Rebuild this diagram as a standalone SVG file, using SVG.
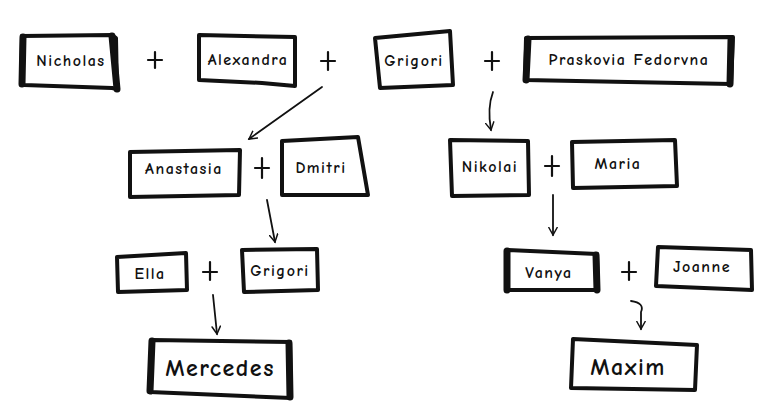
<svg xmlns="http://www.w3.org/2000/svg" width="773" height="419" viewBox="0 0 773 419">
<defs>
<style>
.box{fill:#fff;stroke:#111;stroke-width:4;stroke-linejoin:round;stroke-linecap:round}
.thick{fill:none;stroke:#111;stroke-width:7;stroke-linecap:round}
.t{font-family:"Comic Neue","Liberation Sans",sans-serif;font-size:16px;font-weight:700;fill:#111;text-anchor:middle;letter-spacing:1.5px}
.tb{font-family:"Comic Neue","Liberation Sans",sans-serif;font-size:24px;font-weight:700;fill:#111;text-anchor:middle;letter-spacing:1.5px}
.plus{fill:none;stroke:#111;stroke-width:2.2;stroke-linecap:round}
.con{fill:none;stroke:#111;stroke-width:1.8;stroke-linecap:round}
</style>
<marker id="ah" viewBox="0 0 12 12" refX="10" refY="6" markerWidth="10" markerHeight="10" markerUnits="userSpaceOnUse" orient="auto">
<path d="M1,1 L10,6 L1,11" fill="none" stroke="#111" stroke-width="1.8" stroke-linecap="round"/>
</marker>
</defs>

<g id="connectors">
<path class="con" d="M322,87 L249,139" marker-end="url(#ah)"/>
<path class="con" d="M493,92 Q487,108 491,130" marker-end="url(#ah)"/>
<path class="con" d="M267,200 L275,242" marker-end="url(#ah)"/>
<path class="con" d="M213,295 L217,334" marker-end="url(#ah)"/>
<path class="con" d="M553,195 L553,235" marker-end="url(#ah)"/>
<path class="con" d="M631,301 Q645,303 641,312 L641,329" marker-end="url(#ah)"/>
</g>

<g id="pluses">
<path class="plus" d="M148,60 H162 M155,52 V68"/>
<path class="plus" d="M321,61 H335 M328,52 V70"/>
<path class="plus" d="M485,61 H499 M492,52 V70"/>
<path class="plus" d="M255,168 H269 M262,158 V178"/>
<path class="plus" d="M545,166 H559 M552,156 V176"/>
<path class="plus" d="M203,272 H217 M210,262 V280"/>
<path class="plus" d="M622,272 H636 M629,262 V280"/>
</g>

<g id="n-nicholas">
<path class="box" d="M22,36 L112,35 L116,38 L117,89 L112,88 L24,85 L21,82 Z"/>
<path class="thick" d="M23,37 L22,84 M112,36 L117,89"/>
<text class="t" x="71" y="66">Nicholas</text>
</g>
<g id="n-alexandra">
<path class="box" d="M199,35 L295,37 L295,86 L262,83 L199,80 Z"/>
<text class="t" x="248" y="65">Alexandra</text>
</g>
<g id="n-grigori1">
<path class="box" d="M375,38 L450,31 L453,85 L380,88 Z"/>
<text class="t" x="414" y="66">Grigori</text>
</g>
<g id="n-praskovia">
<path class="box" d="M526,38 L733,37 L731,84 L525,80 Z"/>
<path class="thick" d="M528,39 L526,80 M731,40 L730,84"/>
<text class="t" x="629" y="65">Praskovia Fedorvna</text>
</g>

<g id="n-anastasia">
<path class="box" d="M130,152 L240,150 L239,195 L130,197 Z"/>
<text class="t" x="184" y="174">Anastasia</text>
</g>
<g id="n-dmitri">
<path class="box" d="M282,141 L358,137 L368,195 L282,195 Z"/>
<text class="t" x="321" y="173">Dmitri</text>
</g>
<g id="n-nikolai">
<path class="box" d="M450,140 L528,141 L529,195 L452,196 Z"/>
<text class="t" x="490" y="172">Nikolai</text>
</g>
<g id="n-maria">
<path class="box" d="M572,142 L675,140 L677,186 L573,188 Z"/>
<text class="t" x="618" y="169">Maria</text>
</g>

<g id="n-ella">
<path class="box" d="M117,257 L186,253 L187,290 L118,292 Z"/>
<text class="t" x="150" y="279">Ella</text>
</g>
<g id="n-grigori2">
<path class="box" d="M242,250 L317,249 L318,290 L244,292 Z"/>
<text class="t" x="280" y="276">Grigori</text>
</g>
<g id="n-vanya">
<path class="box" d="M507,250 L597,254 L598,290 L507,290 Z"/>
<path class="thick" d="M507,251 L507,290 M596,255 L597,290"/>
<text class="t" x="549" y="278">Vanya</text>
</g>
<g id="n-joanne">
<path class="box" d="M658,247 L751,250 L752,290 L656,286 Z"/>
<text class="t" x="702" y="272">Joanne</text>
</g>

<g id="n-mercedes">
<path class="box" d="M152,340 L290,342 L291,398 L150,392 Z"/>
<path class="thick" d="M152,341 L150,391 M289,343 L290,397"/>
<text class="tb" x="220" y="376">Mercedes</text>
</g>
<g id="n-maxim">
<path class="box" d="M573,339 L697,345 L695,390 L571,388 Z"/>
<text class="tb" x="628" y="375">Maxim</text>
</g>
</svg>
